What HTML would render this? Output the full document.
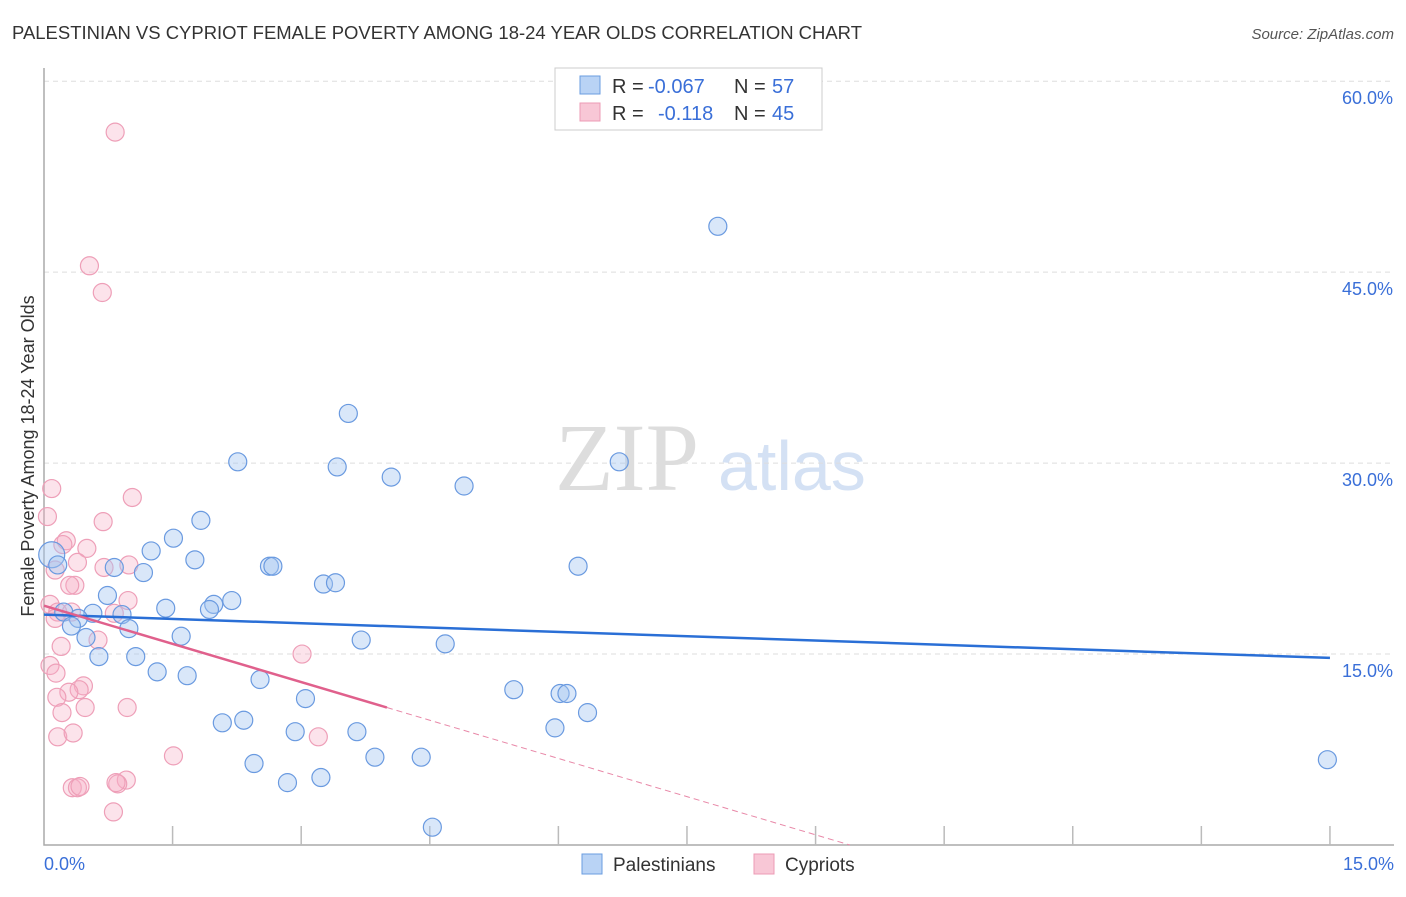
<!DOCTYPE html>
<html><head><meta charset="utf-8"><style>
body{margin:0;background:#fff;font-family:"Liberation Sans",sans-serif;}
</style></head><body>
<svg id="chart" width="1406" height="892" xmlns="http://www.w3.org/2000/svg" font-family="Liberation Sans, sans-serif">
<text x="12" y="39" font-size="18" fill="#333" textLength="850" lengthAdjust="spacingAndGlyphs">PALESTINIAN VS CYPRIOT FEMALE POVERTY AMONG 18-24 YEAR OLDS CORRELATION CHART</text>
<text x="1394" y="39" font-size="15" fill="#555" text-anchor="end" font-style="italic">Source: ZipAtlas.com</text>
<text x="555" y="490" font-size="96" fill="#ddd" font-family="Liberation Serif, serif">ZIP</text>
<text x="718" y="490" font-size="70" fill="#d4e1f4">atlas</text>
<text transform="translate(34,456) rotate(-90)" font-size="18" fill="#333" text-anchor="middle">Female Poverty Among 18-24 Year Olds</text>
<g id="grid"></g><g id="axes"></g><g id="pts"></g><g id="trend"></g>
<g>
<rect x="555" y="68" width="267" height="62" fill="#fff" stroke="#ccc"/>
<rect x="580" y="76" width="20" height="18" fill="#b9d3f5" stroke="#6a9ce0"/>
<rect x="580" y="103" width="20" height="18" fill="#f8c7d6" stroke="#ec9bb5"/>
<text x="612" y="93" font-size="20" fill="#333">R =</text>
<text x="648" y="93" font-size="20" fill="#3a6fd8">-0.067</text>
<text x="734" y="93" font-size="20" fill="#333">N =</text>
<text x="772" y="93" font-size="20" fill="#3a6fd8">57</text>
<text x="612" y="120" font-size="20" fill="#333">R =</text>
<text x="658" y="120" font-size="20" fill="#3a6fd8">-0.118</text>
<text x="734" y="120" font-size="20" fill="#333">N =</text>
<text x="772" y="120" font-size="20" fill="#3a6fd8">45</text>
</g>
<g>
<rect x="582" y="854" width="20" height="20" fill="#b9d3f5" stroke="#6a9ce0"/>
<text x="613" y="871" font-size="19" fill="#333">Palestinians</text>
<rect x="754" y="854" width="20" height="20" fill="#f8c7d6" stroke="#ec9bb5"/>
<text x="785" y="871" font-size="19" fill="#333">Cypriots</text>
</g>
</svg>
<script>
const yTicks=[15,30,45,60];
const yTickLabels=["15.0%","30.0%","45.0%","60.0%"];
const xTickLabels=["0.0%","15.0%"];
const blueX=[7.86,3.55,2.26,3.42,6.71,4.05,4.90,1.83,1.51,1.25,1.76,0.82,1.16,2.63,2.67,6.23,3.26,3.40,0.74,2.19,1.98,1.93,1.42,0.23,0.57,0.91,0.40,0.32,0.99,1.60,0.49,3.70,4.68,0.64,1.07,1.32,1.67,2.52,5.48,6.02,6.10,3.05,6.34,2.33,2.08,5.96,3.65,2.93,3.86,4.40,2.45,3.23,2.84,4.53,14.97,0.09,0.16];
const blueY=[48.6,33.9,30.1,29.7,30.1,28.9,28.2,25.5,24.1,23.1,22.4,21.8,21.4,21.9,21.9,21.9,20.5,20.6,19.6,19.2,18.9,18.5,18.6,18.3,18.2,18.1,17.8,17.2,17.0,16.4,16.3,16.1,15.8,14.8,14.8,13.6,13.3,13.0,12.2,11.9,11.9,11.5,10.4,9.8,9.6,9.2,8.9,8.9,6.9,6.9,6.4,5.3,4.9,1.4,6.7,22.8,22.0];
const pinkX=[0.83,0.53,0.68,0.09,1.03,0.04,0.69,0.26,0.22,0.50,0.39,0.99,0.70,0.13,0.36,0.30,0.98,0.07,0.16,0.32,0.82,0.13,0.63,0.20,3.01,0.07,0.14,0.46,0.41,0.29,0.15,0.48,0.97,0.21,0.16,0.34,3.20,1.51,0.33,0.39,0.42,0.96,0.86,0.84,0.81];
const pinkY=[56.0,45.5,43.4,28.0,27.3,25.8,25.4,23.9,23.6,23.3,22.2,22.0,21.8,21.6,20.4,20.4,19.2,18.9,18.3,18.3,18.2,17.8,16.1,15.6,15.0,14.1,13.5,12.5,12.2,12.0,11.6,10.8,10.8,10.4,8.5,8.8,8.5,7.0,4.5,4.5,4.6,5.1,4.8,4.9,2.6];
const blueTrend=[18.1,14.7];
const pinkTrend=[18.8,10.8];
const pinkSolidEnd=4.0;
const X=v=>44+v*85.73, Y=v=>845-v*12.73;
const NS="http://www.w3.org/2000/svg";
function mk(p,t,a){const e=document.createElementNS(NS,t);for(const k in a)e.setAttribute(k,a[k]);document.getElementById(p).appendChild(e);return e;}
yTicks.forEach((t,i)=>{
 const l=mk('grid','line',{x1:44,x2:1394,y1:Y(t),y2:Y(t),stroke:'#ddd','stroke-dasharray':'5,4'});
 
 
 const tx=mk('grid','text',{x:1393,y:Y(t)+23,'font-size':18,fill:'#3a6fd8','text-anchor':'end'});
 tx.textContent=yTickLabels[i];
 
 
});
const ax=mk('axes','path',{d:'M44,68 V845 H1394',fill:'none',stroke:'#aaa','stroke-width':1.5});


for(let i=1;i<=10;i++){const t=mk('axes','line',{x1:X(i*1.5),x2:X(i*1.5),y1:826,y2:845,stroke:'#bbb','stroke-width':1.5});
 
 }
const xl0=mk('axes','text',{x:44,y:870,'font-size':18,fill:'#3a6fd8'});xl0.textContent=xTickLabels[0];


const xl1=mk('axes','text',{x:1394,y:870,'font-size':18,fill:'#3a6fd8','text-anchor':'end'});xl1.textContent=xTickLabels[1];


pinkX.forEach((v,i)=>{const c=mk('pts','circle',{cx:X(v),cy:Y(pinkY[i]),r:9,fill:'rgba(245,175,198,0.35)',stroke:'#ee9fb8','stroke-width':1.2});
 
 });
blueX.forEach((v,i)=>{const c=mk('pts','circle',{cx:X(v),cy:Y(blueY[i]),r:i==55?13:9,fill:'rgba(165,198,240,0.42)',stroke:'#6a9ae0','stroke-width':1.2});
 
 });
const bt=mk('trend','line',{x1:X(0),y1:Y(blueTrend[0]),x2:X(15),y2:Y(blueTrend[1]),stroke:'#2a6fd6','stroke-width':2.5});


const slope=(pinkTrend[1]-pinkTrend[0])/pinkSolidEnd, zeroX=-pinkTrend[0]/slope;
const pt=mk('trend','line',{x1:X(0),y1:Y(pinkTrend[0]),x2:X(pinkSolidEnd),y2:Y(pinkTrend[1]),stroke:'#e0608c','stroke-width':2.5});


const pd=mk('trend','line',{x1:X(pinkSolidEnd),y1:Y(pinkTrend[1]),x2:X(zeroX),y2:Y(0),stroke:'#e888a8','stroke-width':1,'stroke-dasharray':'6,4'});


</script>
</body></html>
